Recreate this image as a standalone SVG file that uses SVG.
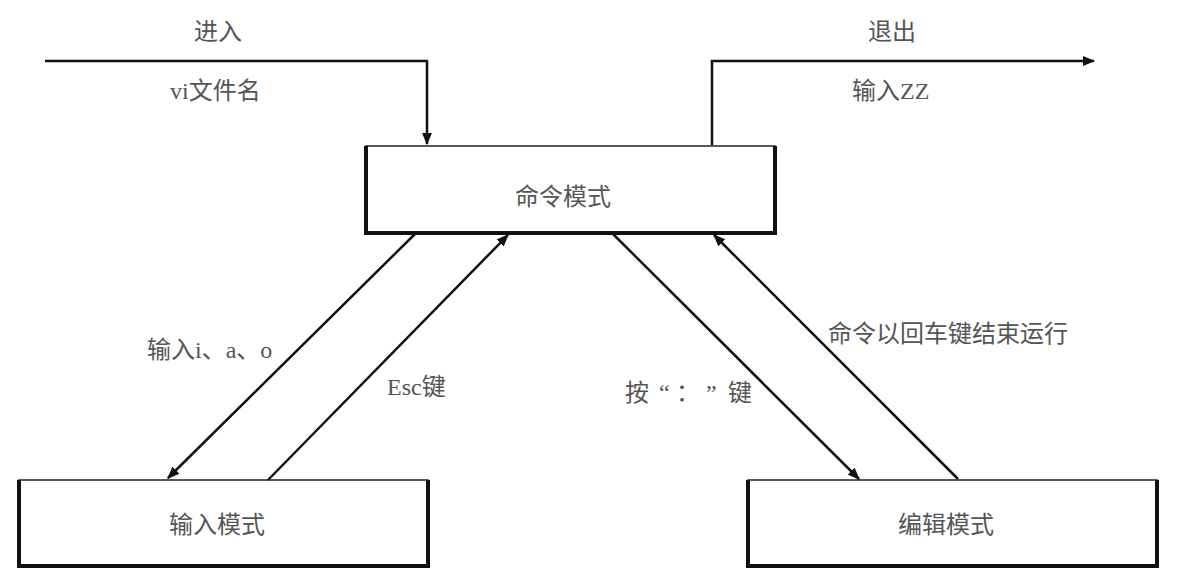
<svg xmlns="http://www.w3.org/2000/svg" width="1186" height="584" viewBox="0 0 1186 584">
<defs>
<marker id="ah" viewBox="0 0 10 10" refX="9" refY="5" markerWidth="5" markerHeight="5" markerUnits="strokeWidth" orient="auto">
<path d="M0,1 L10,5 L0,9 Z" fill="#111"/>
</marker>
<style>
.box{fill:#fff;stroke:#222;stroke-width:1.5}
.edge{fill:none;stroke:#111;stroke-width:4}
.lbl{font-family:"Liberation Serif","Noto Sans CJK SC",serif;font-size:24px;fill:#555}
.conn{fill:none;stroke:#111;stroke-width:2.5;marker-end:url(#ah)}
</style>
</defs>
<rect width="1186" height="584" fill="#fff"/>
<g id="cmd">
<rect class="box" x="366" y="146" width="409" height="87"/>
<path class="edge" d="M366,146 V233 H775 V146"/>
<text class="lbl" x="563" y="205" text-anchor="middle">命令模式</text>
</g>
<g id="input">
<rect class="box" x="19" y="480" width="409" height="86"/>
<path class="edge" d="M19,480 V566 H428 V480"/>
<text class="lbl" x="217" y="533" text-anchor="middle">输入模式</text>
</g>
<g id="edit">
<rect class="box" x="748" y="480" width="409" height="86"/>
<path class="edge" d="M748,480 V566 H1157 V480"/>
<text class="lbl" x="946" y="533" text-anchor="middle">编辑模式</text>
</g>
<g id="connectors">
<path class="conn" d="M45,61 H427 V144"/>
<path class="conn" d="M712,145 V61 H1094"/>
<path class="conn" d="M415,234 L168,478"/>
<path class="conn" d="M268,480 L508,235"/>
<path class="conn" d="M613,234 L859,479"/>
<path class="conn" d="M958,479 L714,235"/>
</g>
<g id="labels">
<text class="lbl" x="218" y="40" text-anchor="middle">进入</text>
<text class="lbl" x="170" y="99">vi文件名</text>
<text class="lbl" x="892" y="40" text-anchor="middle">退出</text>
<text class="lbl" x="852" y="99">输入ZZ</text>
<text class="lbl" x="147" y="358">输入i、a、o</text>
<text class="lbl" x="387" y="395">Esc键</text>
<text class="lbl" x="625 659 676 706 728" y="401">按“：”键</text>
<text class="lbl" x="828" y="342">命令以回车键结束运行</text>
</g>
</svg>
